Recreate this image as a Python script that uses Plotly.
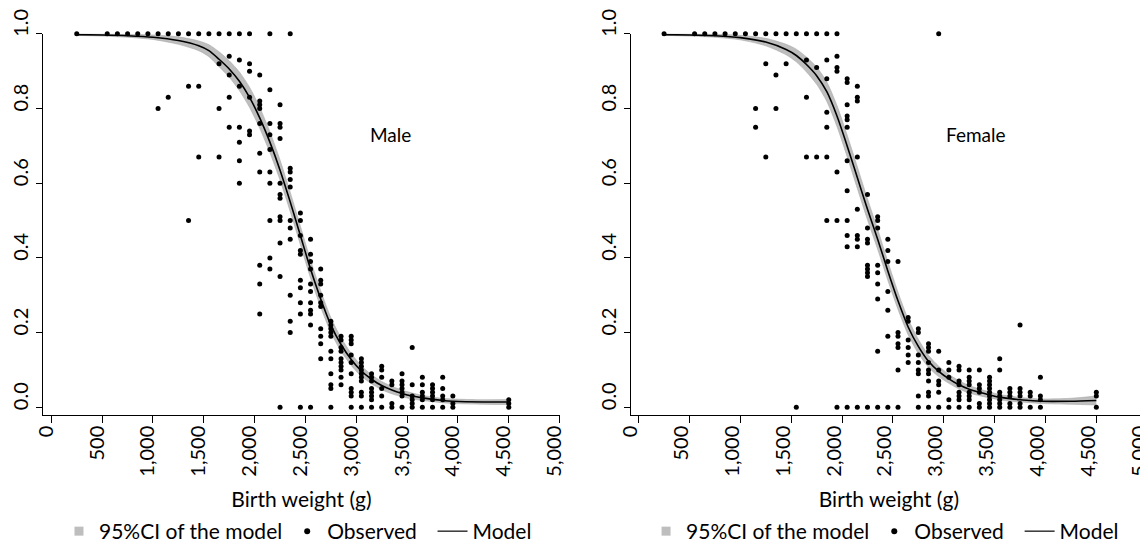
import plotly.graph_objects as go

# ---------------- data ----------------
x_tick_vals = [0, 500, 1000, 1500, 2000, 2500, 3000, 3500, 4000, 4500, 5000]
x_tick_text = ["0", "500", "1,000", "1,500", "2,000", "2,500", "3,000", "3,500", "4,000", "4,500", "5,000"]
y_tick_vals = [0.0, 0.2, 0.4, 0.6, 0.8, 1.0]
y_tick_text = ["0.0", "0.2", "0.4", "0.6", "0.8", "1.0"]

# fitted model and its 95% CI, Male
male_fit_x = [250, 500, 750, 1000, 1250, 1450, 1550, 1650, 1750, 1850, 1950, 2050, 2150, 2250, 2350,
              2450, 2550, 2650, 2750, 2850, 2950, 3050, 3150, 3250, 3350, 3450, 3550, 3650, 3750,
              3850, 3950, 4250, 4500]
male_fit = [0.998, 0.997, 0.995, 0.991, 0.982, 0.968, 0.955, 0.932, 0.906, 0.873, 0.830, 0.775, 0.710,
            0.635, 0.550, 0.460, 0.370, 0.290, 0.220, 0.168, 0.128, 0.097, 0.075, 0.058, 0.046, 0.037,
            0.030, 0.025, 0.021, 0.018, 0.016, 0.014, 0.014]
male_lo = [0.996, 0.994, 0.991, 0.985, 0.972, 0.955, 0.939, 0.912, 0.884, 0.848, 0.803, 0.747, 0.682,
           0.608, 0.524, 0.435, 0.346, 0.268, 0.200, 0.150, 0.112, 0.083, 0.063, 0.047, 0.036, 0.028,
           0.022, 0.018, 0.015, 0.012, 0.010, 0.008, 0.007]
male_hi = [1.000, 1.000, 0.999, 0.997, 0.992, 0.981, 0.971, 0.952, 0.928, 0.898, 0.857, 0.803, 0.738,
           0.662, 0.576, 0.485, 0.394, 0.312, 0.240, 0.186, 0.144, 0.111, 0.087, 0.069, 0.056, 0.046,
           0.038, 0.032, 0.027, 0.024, 0.022, 0.020, 0.021]

# fitted model and its 95% CI, Female
female_fit_x = [250, 500, 750, 1000, 1250, 1450, 1550, 1650, 1750, 1850, 1950, 2050, 2150, 2250, 2350,
                2450, 2550, 2650, 2750, 2850, 2950, 3050, 3150, 3250, 3350, 3450, 3550, 3650, 3750,
                3850, 3950, 4250, 4500]
female_fit = [0.998, 0.997, 0.995, 0.990, 0.978, 0.958, 0.942, 0.918, 0.888, 0.845, 0.780, 0.700, 0.615,
              0.530, 0.450, 0.365, 0.285, 0.215, 0.163, 0.123, 0.096, 0.076, 0.060, 0.048, 0.040, 0.033,
              0.027, 0.023, 0.020, 0.018, 0.016, 0.016, 0.018]
female_lo = [0.996, 0.994, 0.991, 0.984, 0.968, 0.944, 0.925, 0.898, 0.865, 0.819, 0.752, 0.671, 0.586,
             0.502, 0.423, 0.340, 0.262, 0.194, 0.144, 0.107, 0.082, 0.064, 0.049, 0.038, 0.031, 0.025,
             0.020, 0.016, 0.014, 0.012, 0.010, 0.008, 0.006]
female_hi = [1.000, 1.000, 0.999, 0.996, 0.988, 0.972, 0.959, 0.938, 0.911, 0.871, 0.808, 0.729, 0.644,
             0.558, 0.477, 0.390, 0.308, 0.236, 0.182, 0.139, 0.110, 0.088, 0.071, 0.058, 0.049, 0.041,
             0.034, 0.030, 0.026, 0.024, 0.022, 0.024, 0.030]

# observed proportions by 100 g birth-weight class, Male
male_bins = [250, 550, 650, 750, 850, 950, 1050, 1150, 1250, 1350, 1450, 1550, 1650, 1750, 1850, 1950,
             2050, 2150, 2250, 2350, 2450, 2550, 2650, 2750, 2850, 2950, 3050, 3150, 3250, 3350, 3450,
             3550, 3650, 3750, 3850, 3950, 4500]
male_props = [
    [1.0], [1.0], [1.0], [1.0], [1.0], [1.0],
    [1.0, 0.80],
    [1.0, 0.83],
    [1.0],
    [1.0, 0.86, 0.50],
    [1.0, 0.86, 0.67],
    [1.0],
    [1.0, 0.92, 0.80, 0.67],
    [1.0, 0.94, 0.89, 0.83, 0.75],
    [1.0, 0.93, 0.86, 0.75, 0.71, 0.66, 0.60],
    [1.0, 0.92, 0.90, 0.83, 0.74, 0.73],
    [0.89, 0.82, 0.81, 0.80, 0.76, 0.68, 0.63, 0.38, 0.33, 0.25],
    [1.0, 0.85, 0.76, 0.73, 0.69, 0.63, 0.60, 0.50, 0.40, 0.37],
    [0.81, 0.76, 0.75, 0.72, 0.60, 0.57, 0.56, 0.51, 0.50, 0.44, 0.35, 0.0],
    [1.0, 0.64, 0.63, 0.61, 0.59, 0.50, 0.48, 0.45, 0.30, 0.23, 0.20],
    [0.52, 0.50, 0.46, 0.42, 0.41, 0.34, 0.32, 0.28, 0.25, 0.0],
    [0.45, 0.41, 0.39, 0.37, 0.33, 0.31, 0.28, 0.26, 0.25, 0.22, 0.0],
    [0.37, 0.34, 0.33, 0.30, 0.28, 0.27, 0.21, 0.19, 0.17, 0.13],
    [0.23, 0.22, 0.21, 0.20, 0.19, 0.15, 0.13, 0.09, 0.06, 0.05, 0.0],
    [0.19, 0.18, 0.16, 0.15, 0.13, 0.12, 0.11, 0.10, 0.08, 0.06],
    [0.19, 0.18, 0.17, 0.14, 0.12, 0.09, 0.05, 0.04, 0.03, 0.0],
    [0.13, 0.12, 0.11, 0.10, 0.09, 0.08, 0.07, 0.04, 0.03, 0.0],
    [0.09, 0.08, 0.07, 0.05, 0.04, 0.03, 0.02, 0.0],
    [0.11, 0.10, 0.08, 0.05, 0.03, 0.0],
    [0.07, 0.06, 0.01, 0.0],
    [0.09, 0.07, 0.06, 0.05, 0.04, 0.03, 0.0],
    [0.16, 0.06, 0.03, 0.02, 0.01, 0.0],
    [0.08, 0.06, 0.04, 0.03, 0.02, 0.0],
    [0.06, 0.05, 0.04, 0.03, 0.02, 0.0],
    [0.08, 0.05, 0.03, 0.02, 0.0],
    [0.03, 0.01, 0.0],
    [0.02, 0.01, 0.0],
]

# observed proportions by 100 g birth-weight class, Female
female_bins = [250, 550, 650, 750, 850, 950, 1050, 1150, 1250, 1350, 1450, 1550, 1650, 1750, 1850, 1950,
               2050, 2150, 2250, 2350, 2450, 2550, 2650, 2750, 2850, 2950, 3050, 3150, 3250, 3350, 3450,
               3550, 3650, 3750, 3850, 3950, 4500]
female_props = [
    [1.0], [1.0], [1.0], [1.0], [1.0], [1.0], [1.0],
    [1.0, 0.80, 0.75],
    [1.0, 0.92, 0.67],
    [1.0, 0.89, 0.80],
    [1.0, 0.92],
    [1.0, 0.0],
    [1.0, 0.93, 0.83, 0.67],
    [1.0, 0.91, 0.67],
    [1.0, 0.93, 0.88, 0.79, 0.75, 0.67, 0.50],
    [1.0, 0.94, 0.91, 0.90, 0.63, 0.50, 0.0],
    [0.88, 0.87, 0.81, 0.78, 0.77, 0.75, 0.66, 0.58, 0.50, 0.46, 0.43, 0.0],
    [0.86, 0.83, 0.82, 0.67, 0.53, 0.46, 0.45, 0.43, 0.0],
    [0.57, 0.48, 0.45, 0.44, 0.38, 0.37, 0.36, 0.35, 0.0],
    [0.51, 0.50, 0.48, 0.38, 0.36, 0.33, 0.29, 0.15, 0.0],
    [0.45, 0.42, 0.39, 0.31, 0.26, 0.19, 0.0],
    [0.39, 0.20, 0.19, 0.17, 0.16, 0.10, 0.0],
    [0.24, 0.23, 0.18, 0.16, 0.14, 0.12],
    [0.21, 0.20, 0.14, 0.12, 0.10, 0.09, 0.03, 0.0],
    [0.17, 0.16, 0.15, 0.12, 0.10, 0.09, 0.07, 0.04, 0.03, 0.0],
    [1.0, 0.15, 0.10, 0.07, 0.06, 0.04, 0.0],
    [0.12, 0.10, 0.08, 0.02, 0.0],
    [0.11, 0.10, 0.07, 0.06, 0.04, 0.03, 0.02, 0.0],
    [0.10, 0.08, 0.07, 0.06, 0.04, 0.03, 0.02, 0.0],
    [0.10, 0.06, 0.05, 0.04, 0.01, 0.0],
    [0.08, 0.07, 0.06, 0.05, 0.04, 0.03, 0.02, 0.01, 0.0],
    [0.13, 0.10, 0.04, 0.03, 0.02, 0.01, 0.0],
    [0.05, 0.04, 0.03, 0.01, 0.0],
    [0.22, 0.05, 0.04, 0.03, 0.01, 0.0],
    [0.04, 0.03, 0.0],
    [0.08, 0.03, 0.02, 0.0],
    [0.04, 0.03, 0.0],
]

panel_labels = ["Male", "Female"]
legend_names = ["95%CI of the model", "Observed", "Model"]

# ---------------- styling ----------------
FONT = "Lato"
FS_TICK = 20
FS_TEXT = 21
FS_PANEL = 19
BAND = "#BEBEBE"
BAND_EDGE = "#AAAAAA"
NBSP = "\u00a0"


def flatten(bins, props):
    xs, ys = [], []
    for b, vals in zip(bins, props):
        for v in vals:
            xs.append(b)
            ys.append(v)
    return xs, ys


fig = go.Figure()

panels = [
    (male_fit_x, male_fit, male_lo, male_hi, male_bins, male_props, "x", "y", "legend"),
    (female_fit_x, female_fit, female_lo, female_hi, female_bins, female_props, "x2", "y2", "legend2"),
]

for fx, fy, lo, hi, bins, props, xa, ya, lg in panels:
    # legend entries (shown in the legend only)
    fig.add_trace(go.Scatter(x=[None], y=[None], mode="markers", name=legend_names[0],
                             marker=dict(symbol="square", size=9, color=BAND),
                             xaxis=xa, yaxis=ya, legend=lg))
    fig.add_trace(go.Scatter(x=[None], y=[None], mode="markers", name=legend_names[1] + NBSP * 2,
                             marker=dict(symbol="circle", size=6, color="black"),
                             xaxis=xa, yaxis=ya, legend=lg))
    fig.add_trace(go.Scatter(x=[None], y=[None], mode="lines", name=legend_names[2],
                             line=dict(color="black", width=1.2),
                             xaxis=xa, yaxis=ya, legend=lg))
    # CI band
    fig.add_trace(go.Scatter(x=fx, y=lo, mode="lines",
                             line=dict(color=BAND_EDGE, width=0.6, shape="spline", smoothing=0.7),
                             xaxis=xa, yaxis=ya, showlegend=False, hoverinfo="skip", cliponaxis=False))
    fig.add_trace(go.Scatter(x=fx, y=hi, mode="lines", fill="tonexty", fillcolor=BAND,
                             line=dict(color=BAND_EDGE, width=0.6, shape="spline", smoothing=0.7),
                             xaxis=xa, yaxis=ya, showlegend=False, hoverinfo="skip", cliponaxis=False))
    # model
    fig.add_trace(go.Scatter(x=fx, y=fy, mode="lines",
                             line=dict(color="black", width=1.6, shape="spline", smoothing=0.7),
                             xaxis=xa, yaxis=ya, showlegend=False, cliponaxis=False))
    # observed
    ox, oy = flatten(bins, props)
    fig.add_trace(go.Scatter(x=ox, y=oy, mode="markers", marker=dict(color="black", size=5),
                             xaxis=xa, yaxis=ya, showlegend=False, cliponaxis=False))

axis_common = dict(showline=True, linecolor="black", linewidth=1, ticks="outside", tickcolor="black",
                   tickwidth=1, showgrid=False, zeroline=False, ticklabeloverflow="allow",
                   tickfont=dict(family=FONT, size=FS_TICK, color="black"))

xcommon = dict(axis_common, tickvals=x_tick_vals, ticktext=x_tick_text, tickangle=-90, ticklen=7,
               ticklabelstandoff=-5, ticklabelshift=-5,
               title=dict(text="Birth weight (g)", font=dict(family=FONT, size=FS_TEXT, color="black"),
                          standoff=16))
ycommon = dict(axis_common, tickvals=y_tick_vals, ticktext=y_tick_text, tickangle=-90, ticklen=6,
               ticklabelshift=-8,
               range=[-0.02, 1.0005], domain=[0.2524, 0.9528])

legend_common = dict(orientation="h", yanchor="bottom", y=0.0, xanchor="center",
                     font=dict(family=FONT, size=FS_TEXT, color="black"), bgcolor="rgba(0,0,0,0)",
                     itemwidth=30, tracegroupgap=0, traceorder="normal")

fig.update_layout(
    width=1148, height=544,
    margin=dict(l=0, r=0, t=0, b=0, autoexpand=False),
    paper_bgcolor="white", plot_bgcolor="white",
    font=dict(family=FONT, size=FS_TEXT, color="black"),
    xaxis=dict(xcommon, domain=[0.03075, 0.48057], range=[-79, 5001], anchor="y"),
    yaxis=dict(ycommon, anchor="x"),
    xaxis2=dict(xcommon, domain=[0.54225, 0.99242], range=[-80, 5001], anchor="y2", ticklabelshift=-8),
    yaxis2=dict(ycommon, anchor="x2"),
    legend=dict(legend_common, x=0.2526),
    legend2=dict(legend_common, x=0.7640),
    annotations=[
        dict(text=panel_labels[0], x=3115, y=0.73, xref="x", yref="y", xanchor="left", showarrow=False,
             font=dict(family=FONT, size=FS_PANEL, color="black")),
        dict(text=panel_labels[1], x=3000, y=0.73, xref="x2", yref="y2", xanchor="left", showarrow=False,
             font=dict(family=FONT, size=FS_PANEL, color="black")),
    ],
    showlegend=True,
)

fig.write_html("out.html")
